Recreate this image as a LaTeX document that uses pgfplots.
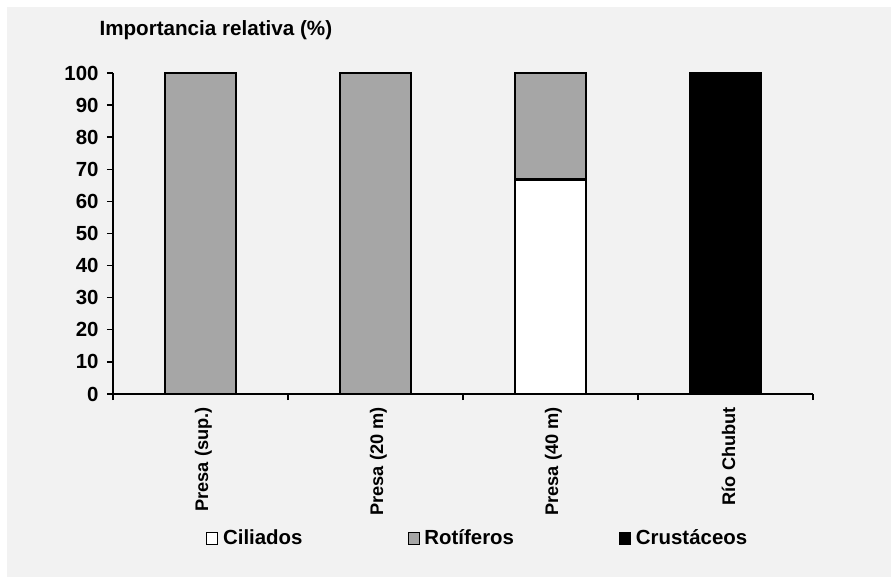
\documentclass[border=0pt]{standalone}
\usepackage{fontspec}
\setmainfont{Liberation Sans}
\usepackage{pgfplots}
\pgfplotsset{compat=1.18}
\usepackage{pgfplotstable}

\definecolor{panelbg}{RGB}{242,242,242}
\definecolor{rotgray}{RGB}{166,166,166}

% Relative importance (%) of each zooplankton group per site
\pgfplotstableread{
x cil rot cru
0 0    100  0
1 0    100  0
2 66.7 33.3 0
3 0    0    100
}\datatable

\newcommand{\fs}[1]{\bfseries\fontsize{#1}{#1}\selectfont}

\begin{document}
\begin{tikzpicture}
\useasboundingbox (0,0) rectangle (891bp,577bp);
\fill[white] (0,0) rectangle (891bp,577bp);
\fill[panelbg] (7bp,0) rectangle (891bp,570bp);

\node[anchor=west, font=\fs{20.7}] at (96bp,547bp) {Importancia relativa (\%)};

\begin{axis}[
  at={(113bp,183bp)}, anchor=south west,
  scale only axis, width=700bp, height=321bp,
  ybar stacked, bar width=71bp,
  xmin=-0.5, xmax=3.5, ymin=0, ymax=100,
  axis x line*=bottom, axis y line*=left,
  axis line style={line width=1.6bp, black},
  tick align=outside, major tick length=6bp,
  tick style={line width=1.4bp, black},
  ytick={0,10,...,100},
  yticklabel style={font=\fs{20.5}, xshift=-5bp},
  /pgf/number format/assume math mode=true,
  xtick={-0.5,0.5,1.5,2.5,3.5}, xticklabels={},
  extra x ticks={0,1,2,3},
  extra x tick labels={Presa (sup.),Presa (20 m),Presa (40 m),Río Chubut},
  extra x tick style={tick style={draw=none}, grid=none,
    tick label style={rotate=90, anchor=east, font=\fs{18.3}, inner sep=0pt,
      xshift=-7bp, yshift=-3bp}},
  legend columns=3,
  legend style={at={(0.521,-0.449)}, anchor=center, draw=none, fill=none,
    font=\fs{20.5},
    nodes={inner sep=2bp},
    /tikz/every odd column/.append style={column sep=3bp},
    /tikz/every even column/.append style={column sep=103bp}},
  legend image code/.code={\draw[#1, line width=0.9bp, draw=black] (0bp,-6bp) rectangle (11bp,6bp);},
]
\addplot[fill=white, draw=black, line width=2.8bp] table[x=x, y=cil] {\datatable};
\addlegendentry{Ciliados}
\addplot[fill=rotgray, draw=black, line width=2.8bp] table[x=x, y=rot] {\datatable};
\addlegendentry{Rotíferos}
\addplot[fill=black, draw=black, line width=2.8bp] table[x=x, y=cru] {\datatable};
\addlegendentry{Crustáceos}
\end{axis}
\end{tikzpicture}
\end{document}
